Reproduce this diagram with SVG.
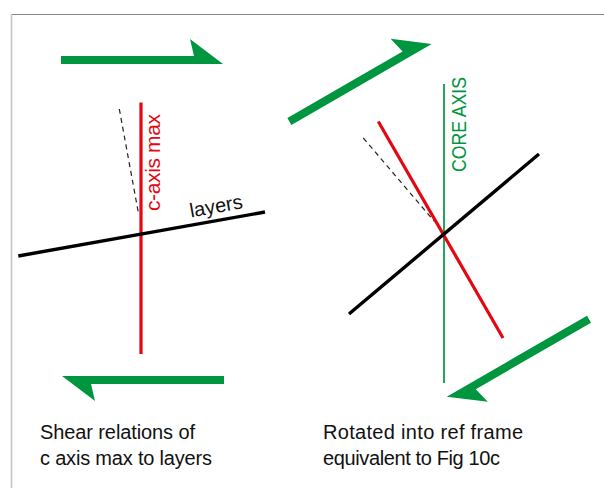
<svg xmlns="http://www.w3.org/2000/svg" width="604" height="488" viewBox="0 0 604 488">
<style>
.arrow{fill:#009640}
.red{stroke:#e30613;stroke-width:3.2;fill:none}
.blk{stroke:#000;stroke-width:3.4;fill:none}
.dash{stroke:#222;stroke-width:1.2;stroke-dasharray:5 4;fill:none}
.core{stroke:#009640;stroke-width:1.7;fill:none}
.t{font-family:"Liberation Sans",Arial,sans-serif}
.cap{font-size:20px;fill:#111}
</style>
<defs>
<path id="arr" d="M0,-8 L133,-8 L129,-25 L162,0 L0,0 Z"/>
</defs>
<rect width="604" height="488" fill="#fff"/>
<g id="frame">
<line x1="11" y1="14.5" x2="604" y2="14.5" stroke="#868686" stroke-width="1"/>
<line x1="11.5" y1="14" x2="11.5" y2="488" stroke="#c4c4c4" stroke-width="1.6"/>
</g>
<g id="left-panel">
<g id="shear-arrow-top"><use href="#arr" class="arrow" transform="translate(61,64)"/></g>
<g id="shear-arrow-bottom"><use href="#arr" class="arrow" transform="translate(224,376) rotate(180)"/></g>
<g id="c-axis-max">
<line class="dash" x1="119.3" y1="109" x2="138.6" y2="214"/>
<line class="red" x1="141" y1="102.5" x2="141" y2="354"/>
<text class="t" font-size="21" fill="#e30613" textLength="97" transform="translate(159.5,211) rotate(-90)">c-axis max</text>
</g>
<g id="layers">
<line class="blk" x1="18.3" y1="256" x2="265" y2="212"/>
<text class="t" font-size="20" fill="#111" transform="translate(191,217.5) rotate(-10.3)">layers</text>
</g>
<g id="caption-left">
<text class="t cap" x="40" y="439" textLength="155">Shear relations of</text>
<text class="t cap" x="40" y="465" textLength="172">c axis max to layers</text>
</g>
</g>
<g id="right-panel">
<g id="arrow-upper-right"><use href="#arr" class="arrow" transform="translate(291.4,125) rotate(-30)"/></g>
<g id="arrow-lower-right"><use href="#arr" class="arrow" transform="translate(587,315.7) rotate(150)"/></g>
<g id="core-axis">
<line class="core" x1="444" y1="84" x2="444" y2="383"/>
<text class="t" font-size="20" fill="#009640" textLength="95" lengthAdjust="spacingAndGlyphs" transform="translate(465.5,172) rotate(-90)">CORE AXIS</text>
</g>
<g id="c-axis-rotated">
<line class="dash" x1="363.3" y1="138" x2="434" y2="221"/>
<line class="red" x1="378.3" y1="121.5" x2="503" y2="338"/>
</g>
<g id="layers-rotated">
<line class="blk" x1="349" y1="314" x2="539" y2="154"/>
</g>
<g id="caption-right">
<text class="t cap" x="323" y="439" textLength="200">Rotated into ref frame</text>
<text class="t cap" x="323" y="465" textLength="177">equivalent to Fig 10c</text>
</g>
</g>
</svg>
